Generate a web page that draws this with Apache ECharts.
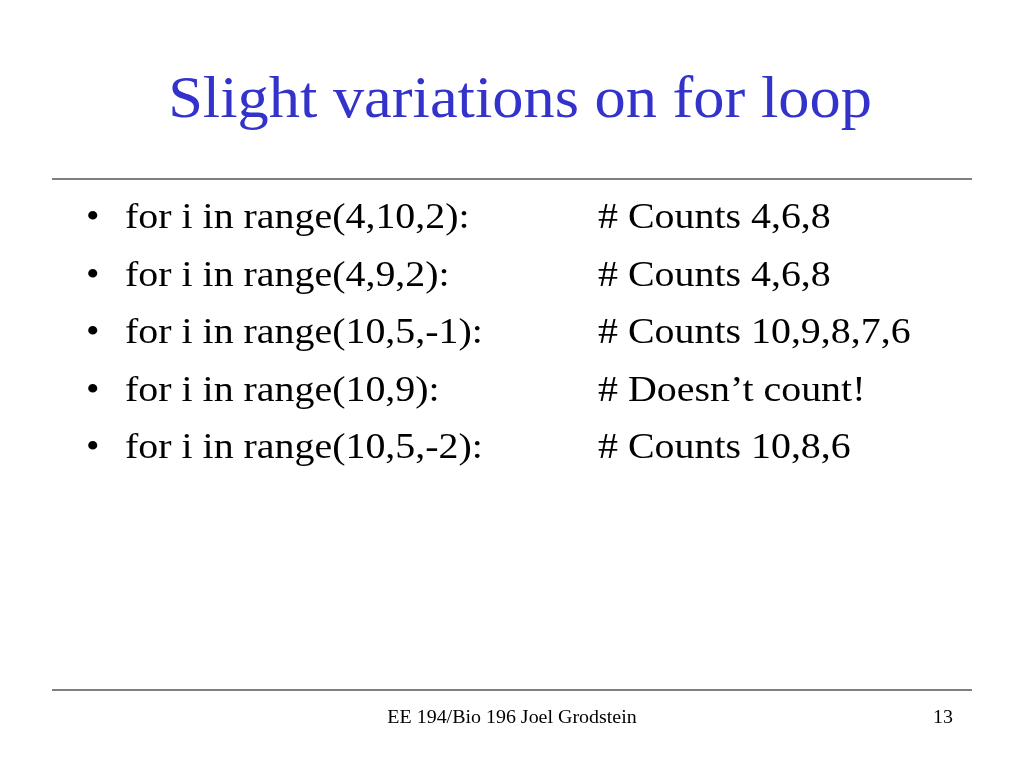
<!DOCTYPE html>
<html><head><meta charset="utf-8">
<script src="https://cdn.jsdelivr.net/npm/echarts@6/dist/echarts.min.js"></script>
<style>html,body{margin:0;padding:0;background:#fff}#c{width:1024px;height:768px}</style>
</head><body><div id="c"></div>
<script>
const title = "Slight variations on for loop";
const codeLines = ["for i in range(4,10,2):","for i in range(4,9,2):","for i in range(10,5,-1):","for i in range(10,9):","for i in range(10,5,-2):"];
const comments = ["# Counts 4,6,8","# Counts 4,6,8","# Counts 10,9,8,7,6","# Doesn\u2019t count!","# Counts 10,8,6"];
const footer = "EE 194/Bio 196 Joel Grodstein";
const pageNum = "13";

const F = "'Liberation Serif','DejaVu Serif',serif";
const els = [];
function txt(x,y,t,size,sx,fill,align){
  els.push({type:'text',x:x,y:y,scaleX:sx,style:{x:0,y:0,text:t,font:size+"px "+F,fill:fill,align:align||'left',verticalAlign:'middle'}});
}
txt(520,101,title,60,1.04,'#3333CC','center');
els.push({type:'line',shape:{x1:52,y1:179,x2:972,y2:179},style:{stroke:'#000',lineWidth:1}});
els.push({type:'line',shape:{x1:52,y1:690,x2:972,y2:690},style:{stroke:'#000',lineWidth:1}});
codeLines.forEach((t,i)=>{
  const y = 219 + i*57.5;
  txt(86,y,'\u2022',35,1.1,'#000');
  txt(125,y,t,35,1.14,'#000');
  txt(598,y,comments[i],35,1.14,'#000');
});
txt(512,718,footer,19,1.05,'#000','center');
txt(943,718,pageNum,19,1.05,'#000','center');

const chart = echarts.init(document.getElementById('c'));
chart.setOption({backgroundColor:'#fff',graphic:els});
</script></body></html>
